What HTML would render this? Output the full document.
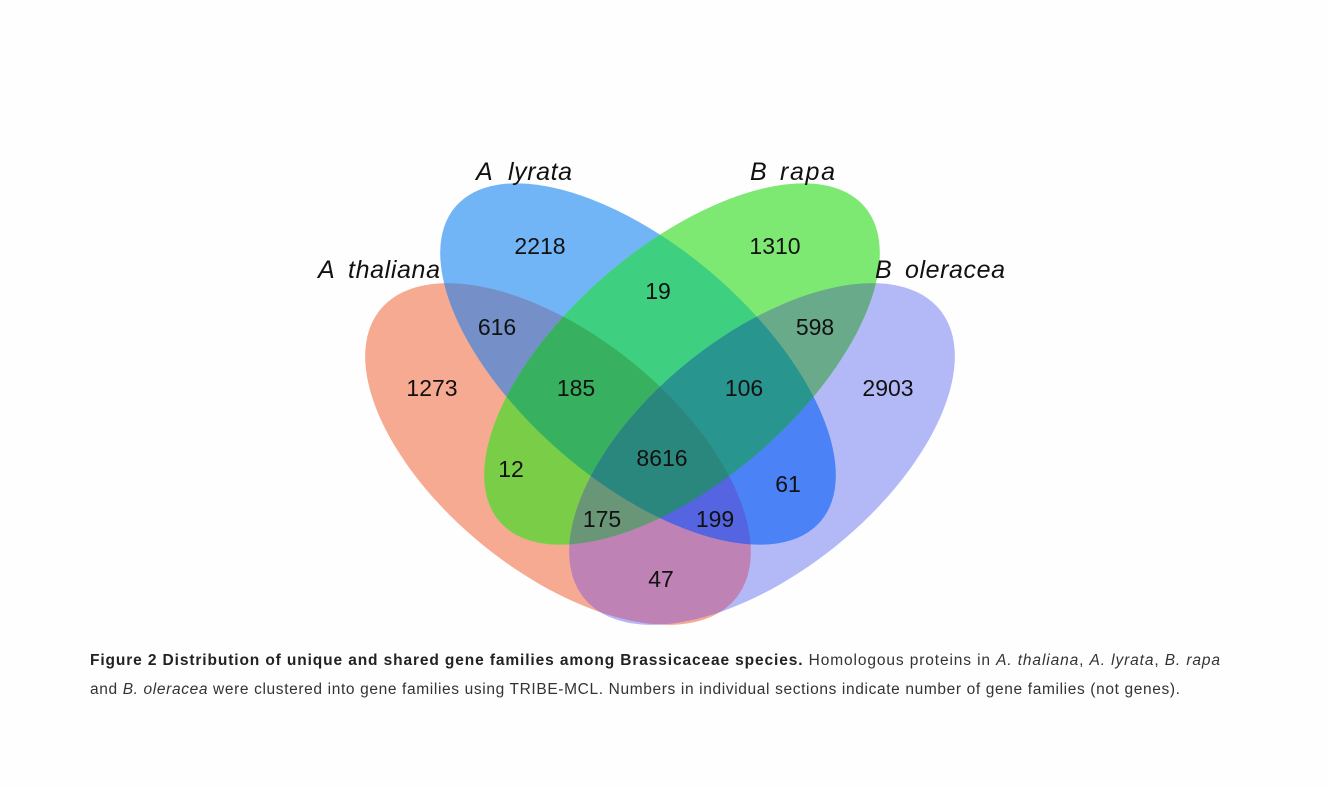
<!DOCTYPE html>
<html><head><meta charset="utf-8"><style>
html,body{margin:0;padding:0;background:#fff;}
svg{display:block;}
</style></head><body>
<svg width="1328" height="788" viewBox="0 0 1328 788" xmlns="http://www.w3.org/2000/svg">
<defs>
<ellipse id="eT" cx="558" cy="454" rx="229" ry="118" transform="rotate(39 558 454)"/>
<ellipse id="eO" cx="762" cy="454" rx="229" ry="118" transform="rotate(-39 762 454)"/>
<ellipse id="eL" cx="638" cy="364" rx="241" ry="117" transform="rotate(40.8 638 364)"/>
<ellipse id="eR" cx="682" cy="364" rx="241" ry="117" transform="rotate(-40.8 682 364)"/>
<clipPath id="cT"><use href="#eT"/></clipPath>
<clipPath id="cO"><use href="#eO"/></clipPath>
<clipPath id="cL"><use href="#eL"/></clipPath>
<clipPath id="cR"><use href="#eR"/></clipPath>
</defs>
<rect width="1328" height="788" fill="#fefefe"/>
<!-- singles -->
<use href="#eT" fill="#f6aa91"/>
<use href="#eO" fill="#b3b8f7"/>
<use href="#eL" fill="#72b5f7"/>
<use href="#eR" fill="#7de872"/>
<!-- pairs -->
<g clip-path="url(#cT)"><use href="#eL" fill="#7590c8"/></g>
<g clip-path="url(#cT)"><use href="#eR" fill="#7acd46"/></g>
<g clip-path="url(#cT)"><use href="#eO" fill="#be82b4"/></g>
<g clip-path="url(#cL)"><use href="#eR" fill="#3ecf80"/></g>
<g clip-path="url(#cL)"><use href="#eO" fill="#4b82f5"/></g>
<g clip-path="url(#cR)"><use href="#eO" fill="#68aa8a"/></g>
<!-- triples -->
<g clip-path="url(#cT)"><g clip-path="url(#cL)"><use href="#eR" fill="#37b05f"/></g></g>
<g clip-path="url(#cL)"><g clip-path="url(#cR)"><use href="#eO" fill="#28968f"/></g></g>
<g clip-path="url(#cT)"><g clip-path="url(#cR)"><use href="#eO" fill="#6a9678"/></g></g>
<g clip-path="url(#cT)"><g clip-path="url(#cL)"><use href="#eO" fill="#5564e0"/></g></g>
<!-- all -->
<g clip-path="url(#cT)"><g clip-path="url(#cL)"><g clip-path="url(#cR)"><use href="#eO" fill="#2a877d"/></g></g></g>
<g font-family="Liberation Sans, sans-serif" font-size="23" fill="#111" text-anchor="middle">
<text x="540" y="254">2218</text>
<text x="775" y="254">1310</text>
<text x="658" y="299">19</text>
<text x="497" y="335">616</text>
<text x="815" y="335">598</text>
<text x="432" y="396">1273</text>
<text x="576" y="396">185</text>
<text x="744" y="396">106</text>
<text x="888" y="396">2903</text>
<text x="662" y="466">8616</text>
<text x="511" y="477">12</text>
<text x="788" y="492">61</text>
<text x="602" y="527">175</text>
<text x="715" y="527">199</text>
<text x="661" y="587">47</text>
</g>
<g font-family="Liberation Sans, sans-serif" font-size="25" font-style="italic" fill="#111">
<text x="318" y="278">A</text><text x="348" y="278" textLength="92">thaliana</text>
<text x="476" y="180">A</text><text x="508" y="180" textLength="64">lyrata</text>
<text x="750" y="180">B</text><text x="780" y="180" textLength="55">rapa</text>
<text x="875" y="278">B</text><text x="905" y="278" textLength="100">oleracea</text>
</g>
<g font-family="Liberation Sans, sans-serif" font-size="15.5" fill="#333">
<text x="90" y="665" textLength="1130" lengthAdjust="spacing"><tspan font-weight="bold" fill="#222">Figure 2 Distribution of unique and shared gene families among Brassicaceae species.</tspan> Homologous proteins in <tspan font-style="italic">A. thaliana</tspan>, <tspan font-style="italic">A. lyrata</tspan>, <tspan font-style="italic">B. rapa</tspan></text>
<text x="90" y="694" textLength="1090" lengthAdjust="spacing">and <tspan font-style="italic">B. oleracea</tspan> were clustered into gene families using TRIBE-MCL. Numbers in individual sections indicate number of gene families (not genes).</text>
</g>
</svg>
</body></html>
